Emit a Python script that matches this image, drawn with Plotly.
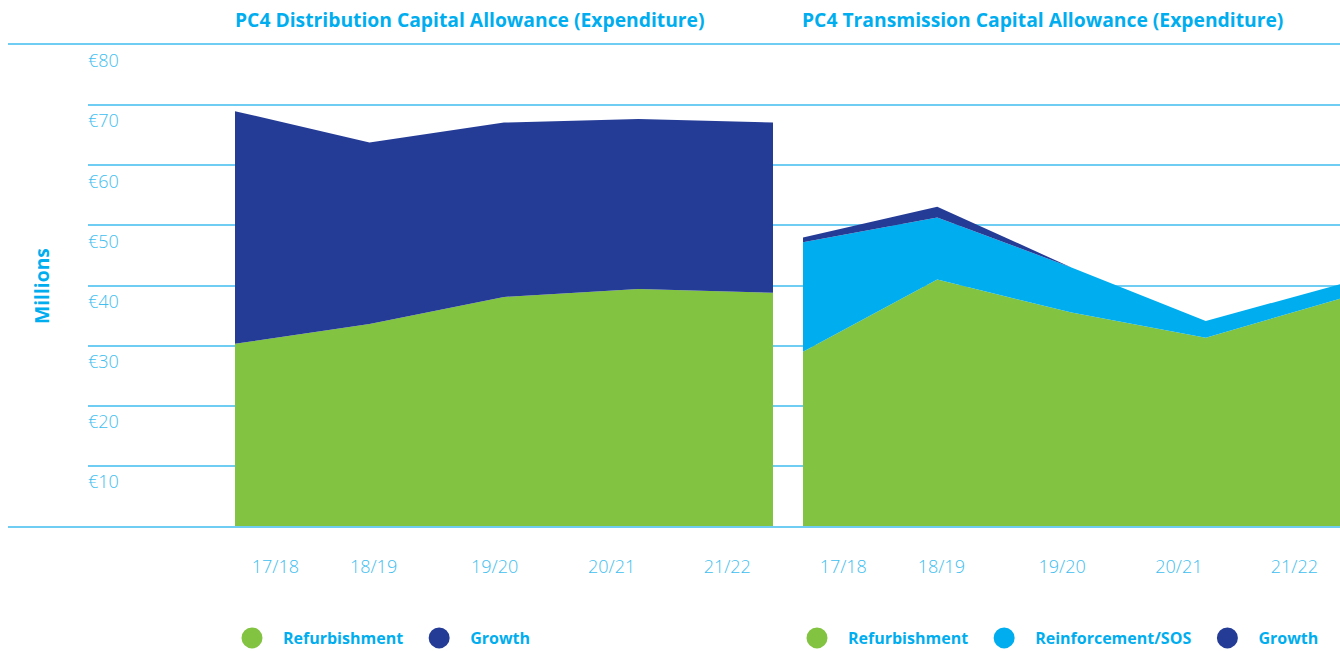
import plotly.graph_objects as go

# ---------------- data ----------------
years = ["17/18", "18/19", "19/20", "20/21", "21/22"]

dist_refurb = [30.3, 33.6, 38.1, 39.4, 38.8]
dist_growth = [38.7, 30.2, 29.0, 28.3, 28.3]

trans_refurb = [29.0, 41.0, 35.5, 31.3, 37.8]
trans_reinf = [18.2, 10.3, 7.5, 2.8, 2.4]
trans_growth = [0.8, 1.8, 0.0, 0.0, 0.0]

y_tick_vals = [10, 20, 30, 40, 50, 60, 70, 80]
y_tick_text = ["€10", "€20", "€30", "€40", "€50", "€60", "€70", "€80"]

# ---------------- style ----------------
GREEN = "#82C341"
LBLUE = "#00AEEF"
NAVY = "#253C97"
GRID = "#6FCDF3"
TICK = "#40BEF0"
FONT = "Open Sans"
W, H = 1340, 651

# label placement (in x-axis units) relative to each year's index
label_shift = [0.30, 0.03, -0.07, -0.20, -0.34]

idx = list(range(len(years)))
tick_pos = [i + s for i, s in zip(idx, label_shift)]

fig = go.Figure()

# base full-width axis (0 and 80 lines)
fig.add_trace(go.Scatter(x=[None], y=[None], xaxis="x", yaxis="y", showlegend=False, hoverinfo="skip"))
# gridline axis with euro labels
fig.add_trace(go.Scatter(x=[None], y=[None], xaxis="x2", yaxis="y2", showlegend=False, hoverinfo="skip"))

# distribution
fig.add_trace(go.Scatter(x=idx, y=dist_refurb, stackgroup="d", mode="none", fillcolor=GREEN,
                         xaxis="x3", yaxis="y3", showlegend=False, name="Refurbishment"))
fig.add_trace(go.Scatter(x=idx, y=dist_growth, stackgroup="d", mode="none", fillcolor=NAVY,
                         xaxis="x3", yaxis="y3", showlegend=False, name="Growth"))

# transmission
fig.add_trace(go.Scatter(x=idx, y=trans_refurb, stackgroup="t", mode="none", fillcolor=GREEN,
                         xaxis="x4", yaxis="y4", showlegend=False, name="Refurbishment"))
fig.add_trace(go.Scatter(x=idx, y=trans_reinf, stackgroup="t", mode="none", fillcolor=LBLUE,
                         xaxis="x4", yaxis="y4", showlegend=False, name="Reinforcement/SOS"))
fig.add_trace(go.Scatter(x=idx, y=trans_growth, stackgroup="t", mode="none", fillcolor=NAVY,
                         xaxis="x4", yaxis="y4", showlegend=False, name="Growth"))

# legend entries (circle symbols)
def leg(name, color, legend, xa, ya):
    fig.add_trace(go.Scatter(x=[None], y=[None], mode="markers", name=name,
                             marker=dict(size=16, color=color, line=dict(width=5, color=color)),
                             legend=legend, xaxis=xa, yaxis=ya))

leg("Refurbishment", GREEN, "legend", "x3", "y3")
leg("Growth", NAVY, "legend", "x3", "y3")
leg("Refurbishment", GREEN, "legend2", "x4", "y4")
leg("Reinforcement/SOS", LBLUE, "legend2", "x4", "y4")
leg("Growth", NAVY, "legend2", "x4", "y4")

hidden_x = dict(showgrid=False, zeroline=False, showticklabels=False, ticks="")
tick_font = dict(size=18, color=TICK, family=FONT, weight=300)
leg_font = dict(size=16, color=LBLUE, family=FONT, weight="bold")

fig.update_layout(
    width=W, height=H,
    margin=dict(l=0, r=0, t=45, b=125),
    paper_bgcolor="white", plot_bgcolor="rgba(0,0,0,0)",
    font=dict(family=FONT, color=TICK),
    hovermode=False,
    xaxis=dict(domain=[8 / W, 1], range=[0, 1], showline=True, mirror=True, linecolor=GRID,
               linewidth=1.5, **hidden_x),
    yaxis=dict(domain=[0, 1], range=[0, 80], showgrid=False, zeroline=False,
               showticklabels=False, ticks="", anchor="x"),
    xaxis2=dict(domain=[88 / W, 1], range=[0, 1], anchor="y2", showline=False, **hidden_x),
    yaxis2=dict(domain=[0, 1], range=[0, 80], tickvals=y_tick_vals, ticktext=y_tick_text,
                showgrid=True, gridcolor=GRID, gridwidth=1.5, zeroline=False, ticks="",
                ticklabelposition="inside", ticklabelshift=16, ticklabelstandoff=-3,
                ticklabeloverflow="allow", tickfont=tick_font, anchor="x2"),
    xaxis3=dict(domain=[235 / W, 773 / W], range=[0, 4], anchor="y3", showgrid=False, zeroline=False,
                showline=False, ticks="", tickvals=tick_pos, ticktext=years, ticklabelstandoff=28,
                tickfont=tick_font),
    yaxis3=dict(domain=[0, 1], range=[0, 80], anchor="x3", visible=False),
    xaxis4=dict(domain=[803 / W, 1], range=[0, 4], anchor="y4", showgrid=False, zeroline=False,
                showline=False, ticks="", tickvals=tick_pos, ticktext=years, ticklabelstandoff=28,
                tickfont=tick_font),
    yaxis4=dict(domain=[0, 1], range=[0, 80], anchor="x4", visible=False),
    legend=dict(orientation="h", x=221 / W, xanchor="left", yref="container", y=13 / H,
                yanchor="middle", itemwidth=52, traceorder="normal", font=leg_font,
                bgcolor="rgba(0,0,0,0)"),
    legend2=dict(orientation="h", x=786 / W, xanchor="left", yref="container", y=13 / H,
                 yanchor="middle", itemwidth=52, traceorder="normal", font=leg_font,
                 bgcolor="rgba(0,0,0,0)"),
    annotations=[
        dict(text="<b>PC4 Distribution Capital Allowance (Expenditure)</b>", xref="paper", yref="paper",
             x=470.5 / W, y=1.052, xanchor="center", yanchor="middle", showarrow=False,
             font=dict(size=19.3, color=LBLUE, family=FONT)),
        dict(text="<b>PC4 Transmission Capital Allowance (Expenditure)</b>", xref="paper", yref="paper",
             x=1042.5 / W, y=1.052, xanchor="center", yanchor="middle", showarrow=False,
             font=dict(size=19.3, color=LBLUE, family=FONT)),
        dict(text="<b>Millions</b>", xref="paper", yref="paper", x=42 / W, y=0.499,
             xanchor="center", yanchor="middle", textangle=-90, showarrow=False,
             font=dict(size=19.3, color=LBLUE, family=FONT)),
    ],
)

fig.write_html("out.html", config={"displayModeBar": False},
               post_script="document.body.style.margin='0';")
